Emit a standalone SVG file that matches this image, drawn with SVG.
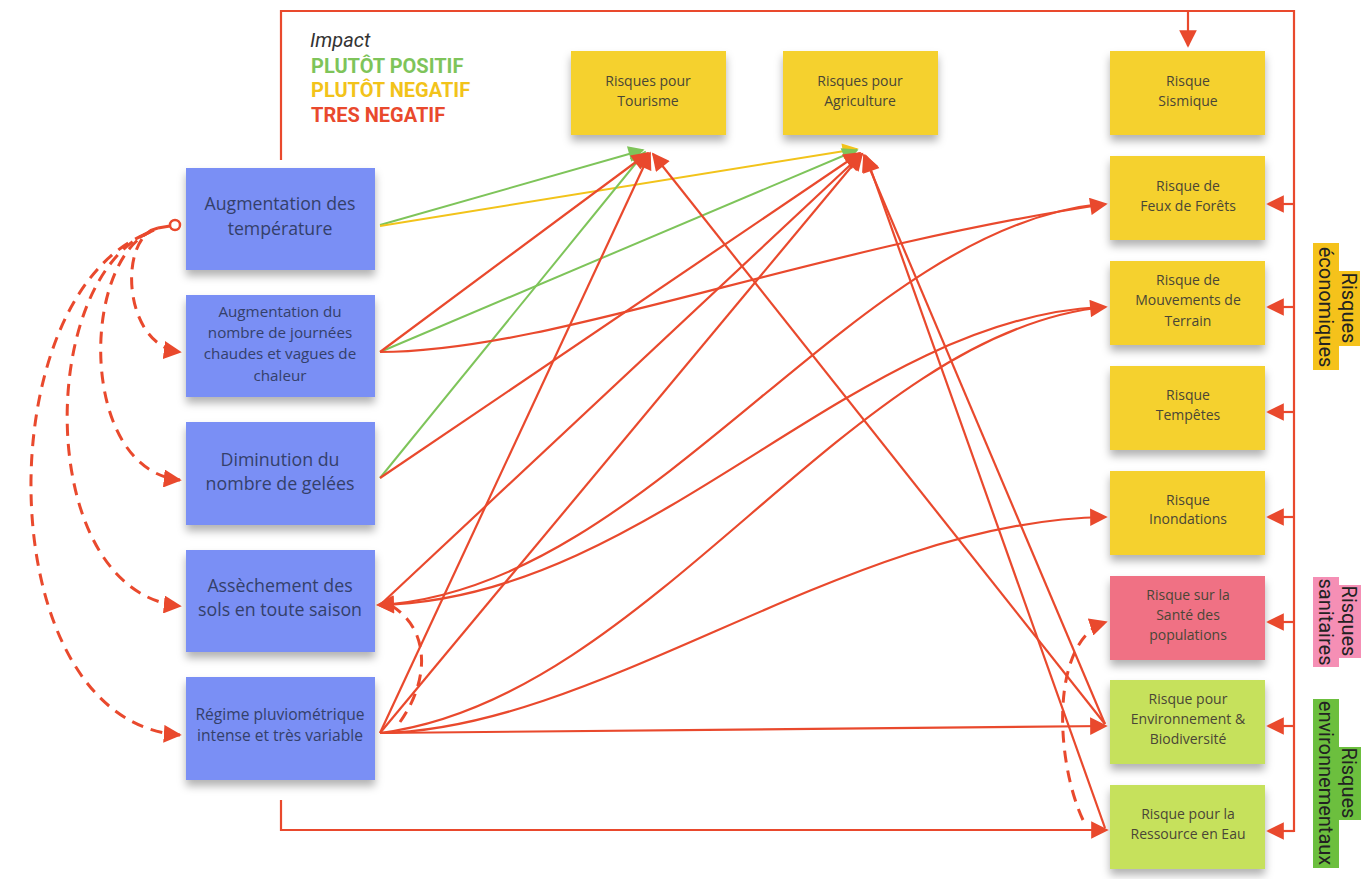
<svg xmlns="http://www.w3.org/2000/svg" width="1363" height="879" viewBox="0 0 1363 879">
<defs>
<filter id="sh" x="-10%" y="-10%" width="120%" height="130%">
<feDropShadow dx="0" dy="6" stdDeviation="4" flood-color="#000" flood-opacity="0.3"/>
</filter>
<marker id="ar" viewBox="0 0 10 10" refX="9" refY="5" markerWidth="8.5" markerHeight="8" orient="auto" markerUnits="strokeWidth"><path d="M0,0 L10,5 L0,10 z" fill="#e9492d"/></marker>
<marker id="ard" viewBox="0 0 10 10" refX="9" refY="5" markerWidth="6" markerHeight="6" orient="auto" markerUnits="strokeWidth"><path d="M0,0 L10,5 L0,10 z" fill="#e9492d"/></marker>
<marker id="ag" viewBox="0 0 10 10" refX="9" refY="5" markerWidth="8.5" markerHeight="8" orient="auto" markerUnits="strokeWidth"><path d="M0,0 L10,5 L0,10 z" fill="#7ec45a"/></marker>
<marker id="ay" viewBox="0 0 10 10" refX="9" refY="5" markerWidth="8.5" markerHeight="8" orient="auto" markerUnits="strokeWidth"><path d="M0,0 L10,5 L0,10 z" fill="#f2c31a"/></marker>
</defs>
<style>
.blue{fill:#7a8ff5}
.yel{fill:#f5d12e}
.pink{fill:#f07184}
.lg{fill:#c6e15c}
.bt{font-family:"Open Sans",sans-serif;fill:#34406a;text-anchor:middle}
.yt{font-family:"Open Sans",sans-serif;font-size:14px;fill:#4a4636;text-anchor:middle}
.r{fill:none;stroke:#e9492d;stroke-width:2.2}
.g{fill:none;stroke:#7ec45a;stroke-width:2}
.y{fill:none;stroke:#f2c31a;stroke-width:2}
.d{fill:none;stroke:#e9492d;stroke-width:3;stroke-dasharray:12 8}
.lab{font-family:Roboto,"Liberation Sans",sans-serif;font-size:20px;fill:#222;text-anchor:middle}
.leg{font-family:Roboto,"Liberation Sans",sans-serif;font-size:20px}
</style>
<rect width="1363" height="879" fill="#fff"/>

<g id="legend">
<text class="leg" x="310" y="47" font-style="italic" fill="#333">Impact</text>
<text class="leg" x="311" y="73" font-weight="bold" fill="#7ec45a">PLUTÔT POSITIF</text>
<text class="leg" x="311" y="97" font-weight="bold" fill="#f2c31a">PLUTÔT NEGATIF</text>
<text class="leg" x="311" y="122" font-weight="bold" fill="#e9492d">TRES NEGATIF</text>
</g>

<g id="labels">
<rect x="1313" y="243" width="26" height="127" fill="#f5c21b"/>
<rect x="1339" y="271" width="21" height="75" fill="#f5c21b"/>
<text class="lab" transform="translate(1319,307) rotate(90)">économiques</text>
<text class="lab" transform="translate(1342,308) rotate(90)">Risques</text>
<rect x="1313" y="577" width="26" height="90" fill="#f58fb5"/>
<rect x="1339" y="585" width="22" height="73" fill="#f58fb5"/>
<text class="lab" transform="translate(1319,622) rotate(90)">sanitaires</text>
<text class="lab" transform="translate(1342,621) rotate(90)">Risques</text>
<rect x="1313" y="699" width="26" height="169" fill="#6cbf3e"/>
<rect x="1339" y="747" width="22" height="73" fill="#6cbf3e"/>
<text class="lab" transform="translate(1319,783) rotate(90)">environnementaux</text>
<text class="lab" transform="translate(1342,783) rotate(90)">Risques</text>
</g>

<g id="n1"><rect class="blue" x="186" y="168" width="189" height="102" filter="url(#sh)"/>
<text class="bt" font-size="17.7" x="280" y="210">Augmentation des</text><text class="bt" font-size="17.7" x="280" y="235">température</text></g>
<g id="n2"><rect class="blue" x="186" y="295" width="189" height="102" filter="url(#sh)"/>
<text class="bt" font-size="15.2" x="280" y="317">Augmentation du</text><text class="bt" font-size="15.2" x="280" y="338">nombre de journées</text><text class="bt" font-size="15.2" x="280" y="359">chaudes et vagues de</text><text class="bt" font-size="15.2" x="280" y="381">chaleur</text></g>
<g id="n3"><rect class="blue" x="186" y="422" width="189" height="103" filter="url(#sh)"/>
<text class="bt" font-size="17.8" x="280" y="466">Diminution du</text><text class="bt" font-size="17.8" x="280" y="490">nombre de gelées</text></g>
<g id="n4"><rect class="blue" x="186" y="550" width="189" height="102" filter="url(#sh)"/>
<text class="bt" font-size="17.8" x="280" y="592">Assèchement des</text><text class="bt" font-size="17.8" x="280" y="616">sols en toute saison</text></g>
<g id="n5"><rect class="blue" x="186" y="677" width="189" height="103" filter="url(#sh)"/>
<text class="bt" font-size="15.6" x="280" y="720">Régime pluviométrique</text><text class="bt" font-size="15.6" x="280" y="741">intense et très variable</text></g>

<g id="tourisme"><rect class="yel" x="571" y="51" width="155" height="84" filter="url(#sh)"/>
<text class="yt" x="648" y="86">Risques pour</text><text class="yt" x="648" y="106">Tourisme</text></g>
<g id="agriculture"><rect class="yel" x="783" y="51" width="155" height="84" filter="url(#sh)"/>
<text class="yt" x="860" y="86">Risques pour</text><text class="yt" x="860" y="106">Agriculture</text></g>

<g id="sismique"><rect class="yel" x="1110" y="51" width="155" height="84" filter="url(#sh)"/>
<text class="yt" x="1188" y="86">Risque</text><text class="yt" x="1188" y="106">Sismique</text></g>
<g id="feux"><rect class="yel" x="1110" y="156" width="155" height="84" filter="url(#sh)"/>
<text class="yt" x="1188" y="191">Risque de</text><text class="yt" x="1188" y="211">Feux de Forêts</text></g>
<g id="mouvements"><rect class="yel" x="1110" y="261" width="155" height="84" filter="url(#sh)"/>
<text class="yt" x="1188" y="285">Risque de</text><text class="yt" x="1188" y="305">Mouvements de</text><text class="yt" x="1188" y="326">Terrain</text></g>
<g id="tempetes"><rect class="yel" x="1110" y="366" width="155" height="84" filter="url(#sh)"/>
<text class="yt" x="1188" y="400">Risque</text><text class="yt" x="1188" y="420">Tempêtes</text></g>
<g id="inondations"><rect class="yel" x="1110" y="471" width="155" height="84" filter="url(#sh)"/>
<text class="yt" x="1188" y="505">Risque</text><text class="yt" x="1188" y="524">Inondations</text></g>
<g id="sante"><rect class="pink" x="1110" y="576" width="155" height="84" filter="url(#sh)"/>
<text class="yt" x="1188" y="600">Risque sur la</text><text class="yt" x="1188" y="620">Santé des</text><text class="yt" x="1188" y="640">populations</text></g>
<g id="environnement"><rect class="lg" x="1110" y="680" width="155" height="84" filter="url(#sh)"/>
<text class="yt" x="1188" y="704">Risque pour</text><text class="yt" x="1188" y="724">Environnement &amp;</text><text class="yt" x="1188" y="744">Biodiversité</text></g>
<g id="ressource"><rect class="lg" x="1110" y="785" width="155" height="84" filter="url(#sh)"/>
<text class="yt" x="1188" y="819">Risque pour la</text><text class="yt" x="1188" y="839">Ressource en Eau</text></g>

<g id="connectors">
<path class="r" d="M281,160 V11 H1294 V832"/>
<path class="r" d="M1188,11 V46" marker-end="url(#ar)"/>
<path class="r" d="M1294,204 H1268" marker-end="url(#ar)"/>
<path class="r" d="M1294,307 H1268" marker-end="url(#ar)"/>
<path class="r" d="M1294,412 H1268" marker-end="url(#ar)"/>
<path class="r" d="M1294,517 H1268" marker-end="url(#ar)"/>
<path class="r" d="M1294,622 H1268" marker-end="url(#ar)"/>
<path class="r" d="M1294,726 H1268" marker-end="url(#ar)"/>
<path class="r" d="M1294,831 H1268" marker-end="url(#ar)"/>
<path class="r" d="M281,800 V830 H1107" marker-end="url(#ar)"/>

<path class="g" d="M380,225 L643,150" marker-end="url(#ag)"/>
<path class="y" d="M380,226 L857,149" marker-end="url(#ay)"/>
<path class="g" d="M380,352 L857,150" marker-end="url(#ag)"/>
<path class="g" d="M380,478 L645,152" marker-end="url(#ag)"/>
<path class="r" d="M380,352 L648,153" marker-end="url(#ar)"/>
<path class="r" d="M380,478 L860,153" marker-end="url(#ar)"/>
<path class="r" d="M380,733 L650,153" marker-end="url(#ar)"/>
<path class="r" d="M380,733 L862,154" marker-end="url(#ar)"/>
<path class="r" d="M380,605 L862,154" marker-end="url(#ar)"/>
<path class="r" d="M1105,724 L653,154" marker-end="url(#ar)"/>
<path class="r" d="M1105,724 L864,155" marker-end="url(#ar)"/>
<path class="r" d="M1105,828 L866,156" marker-end="url(#ar)"/>
<path class="r" d="M380,352 C550,352 800,250 1106,204" marker-end="url(#ar)"/>
<path class="r" d="M380,733 C600,730 850,520 1106,517" marker-end="url(#ar)"/>
<path class="r" d="M380,733 C650,700 850,330 1106,307" marker-end="url(#ar)"/>
<path class="r" d="M1100,307 C850,320 650,600 378,605" marker-end="url(#ar)"/>
<path class="r" d="M1100,204 C850,230 650,590 378,605" marker-end="url(#ar)"/>
<path class="r" d="M380,733 L1106,726" marker-end="url(#ar)"/>

<path class="d" d="M158,228 C118,236 122,345 180,352" marker-end="url(#ard)"/>
<path class="d" d="M154,230 C80,258 78,470 180,480" marker-end="url(#ard)"/>
<path class="d" d="M150,232 C35,280 35,592 180,606" marker-end="url(#ard)"/>
<path class="d" d="M146,234 C-15,300 -10,722 180,735" marker-end="url(#ard)"/>
<path fill="none" stroke="#e9492d" stroke-width="3" d="M158,228 L170,226"/>
<circle cx="175" cy="225" r="5" fill="#fff" stroke="#e9492d" stroke-width="2.5"/>
<path class="d" d="M400,722 C430,680 430,630 392,606"/>
<path class="d" d="M1083,820 C1055,760 1050,640 1106,622" marker-end="url(#ard)"/>
</g>
</svg>
